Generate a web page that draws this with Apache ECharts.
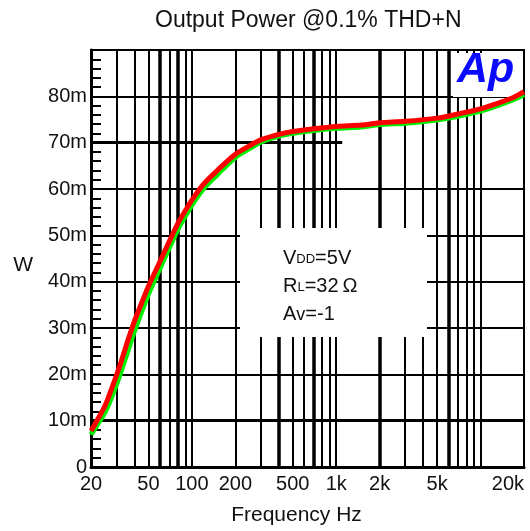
<!DOCTYPE html>
<html>
<head>
<meta charset="utf-8">
<title>Output Power @0.1% THD+N</title>
<script src="https://cdn.jsdelivr.net/npm/echarts@6.0.0/dist/echarts.min.js"></script>
<style>
  html, body { margin: 0; padding: 0; background: #fff; }
  #chart { width: 530px; height: 531px; }
</style>
</head>
<body>
<div id="chart"></div>
<script>
// frequency of each reading, Hz
const freqs = [20, 22, 25, 28, 32, 36, 40, 45, 50, 60, 70, 80, 90, 100, 120, 150, 200, 250, 300, 400, 500, 700, 1000, 1500, 2000, 3000, 5000, 7000, 10000, 14000, 17000, 20000]
// output power, mW (red trace / green trace)
const powerRed = [7.8, 10.0, 13.2, 17.2, 22.3, 27.3, 31.5, 35.5, 39.0, 44.3, 48.8, 52.6, 55.3, 57.6, 61.0, 64.0, 67.5, 69.3, 70.6, 71.8, 72.4, 73.0, 73.5, 73.8, 74.3, 74.6, 75.3, 76.2, 77.3, 78.8, 79.8, 81.0]
const powerGreen = [7.0, 9.0, 11.8, 15.3, 20.2, 25.0, 29.3, 33.6, 37.3, 42.8, 47.4, 51.3, 54.1, 56.5, 60.0, 63.1, 66.8, 68.7, 70.1, 71.4, 72.0, 72.6, 73.1, 73.4, 73.9, 74.2, 74.9, 75.7, 76.8, 78.3, 79.3, 80.4]

// axis labels and grid lines
const xLabelValues = [20, 50, 100, 200, 500, 1000, 2000, 5000, 20000]
const xGridValues = [30, 40, 50, 60, 70, 80, 90, 100, 200, 300, 400, 500, 600, 700, 800, 900, 1000, 2000, 3000, 4000, 5000, 6000, 7000, 8000, 9000, 10000]
const xGridHeavy = [60, 80, 400, 700, 2000, 6000]
const yGridValues = [10, 20, 30, 40, 50, 60, 70, 80]
const yGridHeavy = [10, 70]
const FMIN = 20
const FMAX = 20000
const Y70_STOP = 1100 // the 70m line stops here on the original plot

const FONT = 'Liberation Sans, Arial, sans-serif'

const vLines = xGridValues.map(f => ({
  xAxis: f,
  lineStyle: { width: xGridHeavy.includes(f) ? 3.5 : 2 },
}))
const hLines = yGridValues.map(v => [
  { coord: [FMIN, v], lineStyle: { width: yGridHeavy.includes(v) ? 3 : 2 } },
  { coord: [v === 70 ? Y70_STOP : FMAX, v] },
])

const chartDom = document.getElementById('chart')
const chart = echarts.init(chartDom, null, { renderer: 'canvas' })

const option = {
  animation: false,
  backgroundColor: '#fff',
  title: {
    text: 'Output Power @0.1% THD+N',
    left: 150,
    top: 4,
    textStyle: { fontFamily: FONT, fontSize: 23, fontWeight: 'normal', color: '#111' },
  },
  grid: {
    left: 91,
    right: 6,
    top: 50,
    bottom: 63,
    show: true,
    borderColor: '#000',
    borderWidth: 2,
  },
  xAxis: {
    type: 'log',
    logBase: 10,
    min: FMIN,
    max: FMAX,
    axisLine: { lineStyle: { color: '#000', width: 3 } },
    axisTick: { show: false },
    splitLine: { show: false },
    axisLabel: {
      customValues: xLabelValues,
      formatter: v => (v >= 1000 ? v / 1000 + 'k' : String(v)),
      fontFamily: FONT,
      fontSize: 20,
      color: '#111',
      margin: 7,
      alignMaxLabel: 'right',
    },
    name: 'Frequency Hz',
    nameLocation: 'middle',
    nameGap: 38,
    nameTextStyle: { fontFamily: FONT, fontSize: 21, color: '#111', padding: [0, 22, 0, 0] },
  },
  yAxis: {
    type: 'value',
    min: 0,
    max: 90,
    interval: 10,
    axisLine: { show: true, lineStyle: { color: '#000', width: 3 } },
    axisTick: { show: true, inside: true, length: 4, lineStyle: { color: '#000', width: 2 } },
    minorTick: { show: true, splitNumber: 5, length: 10, lineStyle: { color: '#000', width: 2 } },
    splitLine: { show: false },
    axisLabel: {
      formatter: v => (v === 0 ? '0' : v + 'm'),
      showMaxLabel: false,
      fontFamily: FONT,
      fontSize: 20,
      color: '#111',
      margin: 4,
    },
    name: 'W',
    nameLocation: 'middle',
    nameRotate: 0,
    nameGap: 58,
    nameTextStyle: { fontFamily: FONT, fontSize: 21, color: '#111', verticalAlign: 'top', lineHeight: 14 },
  },
  graphic: [
    // white panel with the test conditions
    { type: 'rect', z: 8, shape: { x: 240, y: 228, width: 187, height: 109 }, style: { fill: '#fff' } },
    {
      type: 'text',
      z: 9,
      x: 283,
      y: 240,
      style: {
        text: '{n|V}{s|DD}{n|=5V}\n{n|R}{s|L}{n|=32\u2009\u03A9}\n{n|A}{v|v}{n|=-1}',
        rich: {
          n: { fontFamily: FONT, fontSize: 20, fill: '#111', lineHeight: 28, verticalAlign: 'bottom' },
          s: { fontFamily: FONT, fontSize: 13, fill: '#111', lineHeight: 28, verticalAlign: 'bottom', padding: [0, 0, 2, 0] },
          v: { fontFamily: FONT, fontSize: 18, fill: '#111', lineHeight: 28, verticalAlign: 'bottom' },
        },
      },
    },
    // Ap logo
    { type: 'rect', z: 8, shape: { x: 453, y: 53, width: 65, height: 44 }, style: { fill: '#fff' } },
    {
      type: 'text',
      z: 9,
      x: 457,
      y: 49,
      style: { text: 'Ap', fontFamily: FONT, fontSize: 43, fontWeight: 'bold', fontStyle: 'italic', fill: '#0a0aff' },
    },
  ],
  series: [
    {
      name: 'grid',
      type: 'line',
      z: 1,
      data: [],
      silent: true,
      markLine: {
        silent: true,
        symbol: ['none', 'none'],
        label: { show: false },
        lineStyle: { color: '#000', type: 'solid', width: 2 },
        emphasis: { disabled: true },
        data: [...vLines, ...hLines],
      },
    },
    {
      name: 'green',
      type: 'line',
      z: 10,
      smooth: 0.3,
      showSymbol: false,
      lineStyle: { color: '#00ee00', width: 5 },
      data: freqs.map((f, i) => [f, powerGreen[i]]),
    },
    {
      name: 'red',
      type: 'line',
      z: 11,
      smooth: 0.3,
      showSymbol: false,
      lineStyle: { color: '#ff0000', width: 5 },
      data: freqs.map((f, i) => [f, powerRed[i]]),
    },
  ],
}

chart.setOption(option)
</script>
</body>
</html>
